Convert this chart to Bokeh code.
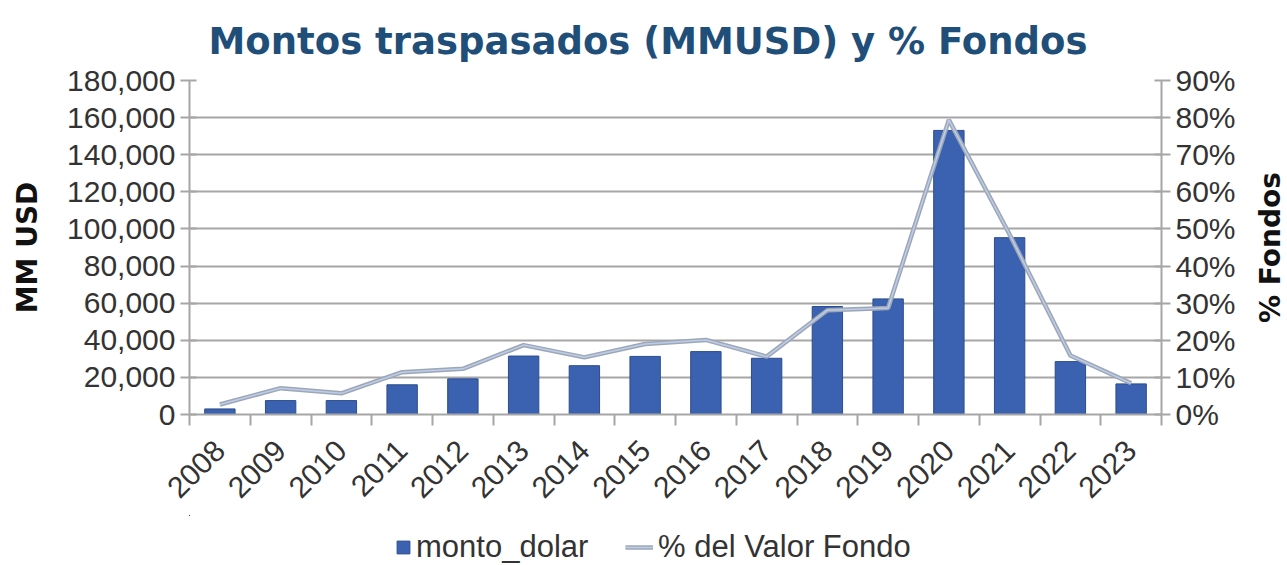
import math
from bokeh.plotting import figure
from bokeh.layouts import gridplot
from bokeh.models import (Range1d, LinearAxis, FixedTicker, CustomJSTickFormatter,
                          NumeralTickFormatter, PrintfTickFormatter, Legend, LegendItem,
                          Grid, Title, Label)
from bokeh.embed import file_html
from bokeh.resources import INLINE

# ---- data ----
years = ["2008", "2009", "2010", "2011", "2012", "2013", "2014", "2015",
         "2016", "2017", "2018", "2019", "2020", "2021", "2022", "2023"]
monto_dolar = [3000, 7500, 7500, 16000, 19200, 31500, 26300, 31300,
               33900, 30300, 58200, 62300, 153100, 95300, 28500, 16500]
pct_valor_fondo = [2.7, 7.1, 5.7, 11.4, 12.3, 18.7, 15.4, 19.0,
                   20.1, 15.6, 28.1, 28.7, 79.4, 48.5, 15.9, 8.4]
y_ticks = [0, 20000, 40000, 60000, 80000, 100000, 120000, 140000, 160000, 180000]
pct_ticks = [0, 10, 20, 30, 40, 50, 60, 70, 80, 90]
title_text = "Montos traspasados (MMUSD) y % Fondos"

n = len(years)
xpos = [i + 0.5 for i in range(n)]
bounds = list(range(n + 1))

GRID = "#a6a6a6"
TXT = "#333333"
BAR = "#3a62b0"
BAR_LINE = "#2c4c8c"
LINE_OUT = "#9ea7b6"
LINE_IN = "#bccdea"

W_MAIN, W_SIDE = 1247, 40
H_MAIN, H_LEG = 515, 50
MB_L, MB_R, MB_T, MB_B = 189, 86, 79, 101


def strip(width, height, **kw):
    f = figure(width=width, height=height, output_backend="svg", toolbar_location=None,
               x_axis_type=None, y_axis_type=None, **kw)
    f.outline_line_color = None
    f.background_fill_color = "white"
    f.border_fill_color = "white"
    return f


# ---- main chart ----
p = strip(W_MAIN, H_MAIN, x_range=Range1d(0, n), y_range=Range1d(0, 180000),
          min_border_left=MB_L, min_border_right=MB_R, min_border_top=MB_T, min_border_bottom=MB_B)
p.extra_y_ranges = {"pct": Range1d(0, 90)}

p.title = Title(text=title_text, align="left", offset=19,
                text_font="DejaVu Sans", text_font_style="bold", text_font_size="37px",
                text_color="#1f4e79", standoff=35)

la = LinearAxis(ticker=FixedTicker(ticks=y_ticks), formatter=NumeralTickFormatter(format="0,0"),
                axis_label="MM USD")
ra = LinearAxis(y_range_name="pct", ticker=FixedTicker(ticks=pct_ticks),
                formatter=PrintfTickFormatter(format="%d%%"))
for ax in (la, ra):
    ax.axis_line_color = GRID
    ax.axis_line_width = 2
    ax.major_tick_line_color = GRID
    ax.major_tick_line_width = 2
    ax.major_tick_in = 7
    ax.major_tick_out = 9
    ax.minor_tick_line_color = None
    ax.major_label_text_font = "Liberation Sans"
    ax.major_label_text_font_size = "30px"
    ax.major_label_text_color = TXT
    ax.major_label_standoff = 5
    ax.axis_label_text_font = "DejaVu Sans"
    ax.axis_label_text_font_style = "bold"
    ax.axis_label_text_font_size = "28px"
    ax.axis_label_text_color = "#111111"
    ax.axis_label_standoff = 20
p.add_layout(la, "left")
p.add_layout(ra, "right")

# bottom axis: ticks at category boundaries
ba = LinearAxis(ticker=FixedTicker(ticks=bounds), formatter=CustomJSTickFormatter(code="return ''"))
ba.axis_line_color = GRID
ba.axis_line_width = 2
ba.major_tick_line_color = GRID
ba.major_tick_line_width = 2
ba.major_tick_in = 0
ba.major_tick_out = 11
ba.minor_tick_line_color = None
ba.major_label_text_font_size = "1px"
ba.major_label_standoff = 0
p.add_layout(ba, "below")

# bottom axis: year labels
ya = LinearAxis(ticker=FixedTicker(ticks=xpos),
                formatter=CustomJSTickFormatter(args=dict(years=years),
                                                code="return years[Math.floor(tick)]"))
ya.axis_line_color = None
ya.major_tick_line_color = None
ya.minor_tick_line_color = None
ya.major_label_orientation = math.pi / 4
ya.major_label_text_font = "Liberation Sans"
ya.major_label_text_font_size = "30px"
ya.major_label_text_color = TXT
ya.major_label_standoff = 14
p.add_layout(ya, "below")

p.add_layout(Grid(dimension=1, ticker=la.ticker, grid_line_color=GRID, grid_line_width=2))

p.vbar(x=xpos, top=monto_dolar, width=0.5, fill_color=BAR, line_color=BAR_LINE, line_width=1)
p.line(x=xpos, y=pct_valor_fondo, y_range_name="pct", line_color=LINE_OUT, line_width=4.5)
p.line(x=xpos, y=pct_valor_fondo, y_range_name="pct", line_color=LINE_IN, line_width=1.5)

# ---- right strip: secondary axis title, reading upward ----
rf = strip(W_SIDE, H_MAIN, x_range=Range1d(0, 1), y_range=Range1d(0, 1),
           min_border_left=0, min_border_right=0, min_border_top=MB_T, min_border_bottom=MB_B)
rf.add_layout(Label(x=0.575, y=0.5, text="% Fondos", angle=math.pi / 2,
                    text_align="center", text_baseline="middle",
                    text_font="DejaVu Sans", text_font_style="bold",
                    text_font_size="28px", text_color="#111111"))

# ---- legend strip (its series sit far outside the visible range; only the keys show) ----
lf = strip(W_MAIN, H_LEG, x_range=Range1d(n + 50, n + 51), y_range=Range1d(-2e6, -1e6),
           min_border_left=MB_L, min_border_right=MB_R, min_border_top=0, min_border_bottom=0)
key_bar = lf.vbar(x=xpos, top=monto_dolar, width=0.5, fill_color=BAR, line_color=BAR_LINE)
key_out = lf.line(x=xpos, y=pct_valor_fondo, line_color=LINE_OUT, line_width=4.5)
key_in = lf.line(x=xpos, y=pct_valor_fondo, line_color=LINE_IN, line_width=1.5)

common = dict(border_line_color=None, background_fill_alpha=0, padding=0, margin=0,
              label_text_font="Liberation Sans", label_text_font_size="31px",
              label_text_color=TXT, label_standoff=5)
leg1 = Legend(items=[LegendItem(label="monto_dolar", renderers=[key_bar])],
              location=(395 - MB_L, 0), glyph_width=16, glyph_height=16, **common)
leg2 = Legend(items=[LegendItem(label="% del Valor Fondo", renderers=[key_out, key_in])],
              location=(625 - MB_L, 0), glyph_width=28, glyph_height=16, **common)
lf.add_layout(leg1, "center")
lf.add_layout(leg2, "center")

grid = gridplot([[p, rf], [lf, None]], toolbar_location=None)
open("out.html", "w").write(file_html(grid, INLINE))
